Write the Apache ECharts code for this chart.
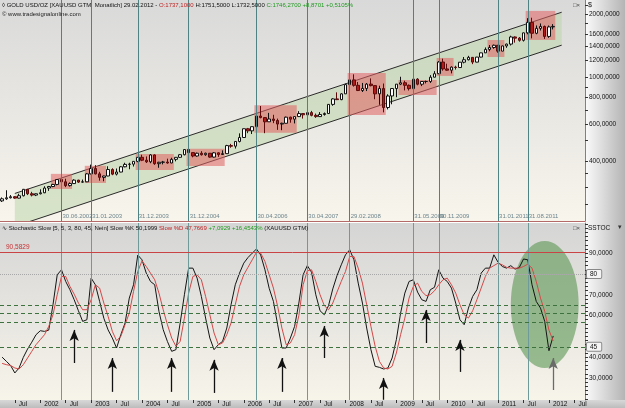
<!DOCTYPE html>
<html>
<head>
<meta charset="utf-8">
<script src="https://cdn.jsdelivr.net/npm/echarts@6/dist/echarts.min.js"></script>
<style>
  html, body { margin: 0; padding: 0; background: #fff; }
  #chart { width: 625px; height: 408px; }
</style>
</head>
<body>
<div id="chart"></div>
<script>
// monthly bars, Apr 2001 .. Feb 2012 (axis runs on to Sep 2012)
const firstYear = 2001, firstMonth = 4, axisMonths = 138;

const opens = [
  258, 264, 267, 270, 266, 273, 293, 279, 275,
  279, 282, 297, 302, 309, 326, 318, 305, 312, 324, 317, 318,
  347, 368, 347, 334, 339, 364, 346, 354, 375, 385, 386, 398,
  416, 403, 396, 427, 388, 394, 395, 391, 407, 416, 428, 453,
  438, 422, 435, 428, 435, 417, 437, 429, 433, 473, 470, 495,
  517, 569, 556, 582, 654, 643, 614, 633, 623, 599, 604, 646,
  632, 650, 672, 663, 679, 659, 650, 665, 672, 743, 789, 783,
  834, 923, 972, 916, 865, 885, 928, 913, 834, 884, 718, 815,
  884, 928, 942, 916, 883, 980, 927, 955, 955, 1001, 1040, 1182,
  1096, 1081, 1118, 1113, 1180, 1212, 1244, 1181, 1248, 1307, 1357, 1386,
  1421, 1332, 1410, 1439, 1556, 1536, 1500, 1628, 1826, 1620, 1710, 1746,
  1565, 1737.1
];
const closes = [
  264, 267, 270, 266, 273, 293, 279, 275, 279,
  282, 297, 302, 309, 326, 318, 305, 312, 324, 317, 318, 347,
  368, 347, 334, 339, 364, 346, 354, 375, 385, 386, 398, 416,
  403, 396, 427, 388, 394, 395, 391, 407, 416, 428, 453, 438,
  422, 435, 428, 435, 417, 437, 429, 433, 473, 470, 495, 517,
  569, 556, 582, 654, 643, 614, 633, 623, 599, 604, 646, 632,
  650, 672, 663, 679, 659, 650, 665, 672, 743, 789, 783, 834,
  923, 972, 916, 865, 885, 928, 913, 834, 884, 718, 815, 884,
  928, 942, 916, 883, 980, 927, 955, 955, 1001, 1040, 1182, 1096,
  1081, 1118, 1113, 1180, 1212, 1244, 1181, 1248, 1307, 1357, 1386, 1421,
  1332, 1410, 1439, 1556, 1536, 1500, 1628, 1826, 1620, 1710, 1746, 1565,
  1737, 1746.27
];
const lows = [
  255, 261, 265, 264, 265, 271, 275, 271, 272,
  277, 281, 288, 300, 306, 314, 300, 302, 311, 314, 315, 317,
  345, 345, 322, 320, 338, 342, 341, 353, 373, 365, 376, 394,
  399, 391, 390, 383, 371, 385, 388, 390, 398, 413, 425, 434,
  416, 419, 424, 423, 414, 415, 418, 427, 432, 462, 458, 490,
  515, 542, 537, 580, 638, 542, 613, 605, 562, 560, 603, 608,
  603, 647, 636, 662, 652, 641, 648, 657, 670, 732, 779, 778,
  833, 890, 903, 860, 851, 860, 905, 786, 740, 681, 703, 744,
  804, 918, 866, 865, 870, 916, 908, 935, 940, 1000, 1035, 1075,
  1075, 1044, 1088, 1113, 1165, 1203, 1155, 1178, 1243, 1308, 1330, 1367,
  1309, 1330, 1381, 1417, 1462, 1478, 1480, 1602, 1532, 1603, 1670, 1523,
  1541, 1690
];
const highs = [
  268, 290, 275, 272, 279, 294, 294, 285, 280,
  293, 303, 304, 311, 328, 330, 329, 316, 327, 325, 326, 350,
  384, 382, 355, 340, 377, 369, 368, 378, 392, 392, 399, 417,
  428, 420, 431, 430, 396, 400, 410, 414, 417, 431, 454, 456,
  438, 438, 445, 438, 436, 441, 439, 449, 477, 482, 497, 541,
  570, 574, 584, 656, 730, 645, 677, 663, 636, 608, 650, 649,
  651, 690, 673, 695, 692, 672, 683, 680, 744, 795, 848, 840,
  933, 975, 1033, 950, 940, 939, 988, 914, 912, 934, 830, 889,
  929, 1006, 963, 924, 981, 990, 960, 964, 1024, 1070, 1195, 1227,
  1161, 1127, 1135, 1181, 1249, 1265, 1245, 1250, 1310, 1387, 1424, 1432,
  1424, 1414, 1447, 1577, 1566, 1553, 1632, 1912, 1921, 1765, 1804, 1763,
  1764, 1791
];

// Stochastic Slow %K / %D, same months
const slowK = [
  40, 38, 36, 32.4, 34.8, 39.9, 43.9, 47.2, 50.8,
  52.7, 52.4, 53, 65.2, 79.6, 82, 76.4, 72.4, 67.6, 62.3, 57.2, 58,
  78, 74.8, 66.8, 58.7, 53.1, 49.2, 44.4, 50.8, 56.4, 68.4, 74.8, 89.1,
  86.8, 80.4, 76.4, 74.8, 62, 53.2, 47.5, 42.8, 43.6, 56.4, 70, 82.8,
  82.8, 78, 69.2, 58.8, 49.2, 43.6, 46, 47.6, 54, 65.2, 74.8, 80.4,
  85.2, 87.9, 90, 92, 89.1, 82, 73.1, 66.8, 55.6, 44.4, 44.4, 49.2,
  54.8, 66, 79.6, 84, 80.8, 70, 62.3, 60.4, 64.8, 72.8, 79.2, 84.4,
  89.2, 91.6, 86.8, 75.6, 66, 54, 43.6, 35.6, 35.1, 34.3, 34.8, 39.6,
  48.4, 61.2, 70.8, 76.4, 77.2, 71.3, 67.6, 66.8, 72.4, 73.6, 82, 78,
  76.4, 73.2, 66, 58, 55.6, 63.6, 69.2, 72.4, 80.4, 82.8, 82.8, 89.2,
  85.6, 83.6, 82.8, 84, 82.3, 83.1, 87.2, 86.8, 74.8, 66.8, 63.6, 57.2,
  43.1, 50.1999
];
const slowD = [
  37, 36.4, 36, 34.8, 34.3, 36.4, 39.6, 42.8, 46,
  48.4, 50.8, 54.8, 60.4, 70, 78.8, 78.8, 74, 70.3, 66, 62.8, 62.8,
  67.6, 74.8, 73.2, 66, 59.6, 52.4, 47.9, 50, 55.6, 61.2, 71.6, 81.2,
  86.3, 83.6, 80.4, 77.2, 70.8, 62.8, 55.6, 49.2, 45.2, 47.6, 58.8, 70.8,
  78.8, 79.6, 77.2, 69.2, 60.4, 51.6, 46, 46.8, 50.8, 56.4, 65.2, 74,
  79.6, 83.2, 86.8, 90.4, 90, 86, 79.6, 73.2, 64.4, 54, 46, 46.8,
  50.8, 60, 74.8, 81.5, 82, 76.4, 70, 64.8, 62.8, 66, 71.3, 76.4,
  81.2, 88.4, 88.4, 82.8, 75.6, 65.2, 54.8, 45.2, 38, 34.8, 34.3, 35.6,
  42, 50.8, 58.8, 68.4, 74, 75.6, 71.6, 69.6, 70, 71.9, 74.8, 77.2,
  78, 74.8, 70.8, 65.2, 60.4, 58.8, 62.3, 67.6, 73.2, 78.8, 82.8, 84,
  85.2, 84.4, 83.2, 82.8, 82.8, 82.8, 83.6, 84.7, 82.8, 76.4, 68.4, 62,
  53, 47.7669
];

// marked bars (vertical lines)
const markDates = ['2002-06-30', '2003-01-31', '2003-12-31', '2004-12-31', '2006-04-30',
  '2007-04-30', '2008-02-29', '2009-05-31', '2009-11-30', '2011-01-31', '2011-08-31'];

// red boxes: from month, to month, low, high
const boxes = [
  ['2002-04', '2002-08', 294, 347],
  ['2002-12', '2003-04', 314, 379],
  ['2003-12', '2004-08', 362, 431],
  ['2004-12', '2005-08', 378, 457],
  ['2006-04', '2007-01', 544, 737],
  ['2008-02', '2008-10', 662, 1049],
  ['2009-02', '2009-10', 824, 971],
  ['2009-11', '2010-02', 1015, 1236],
  ['2010-11', '2011-02', 1249, 1505],
  ['2011-08', '2012-02', 1506, 2070]
];

// trend channel: from month, to month, upper start/end, lower start/end
const channel = ['2001-07', '2012-04', 280, 2040, 195, 1422];

// stochastic levels
const redLevel = 90.5829, upperLevel = 80, lowerLevel = 45;
const zoneLevels = [65, 61, 57];

// arrows: month, from value, to value
const arrows = [
  ['2002-09', 37.2, 53.1], ['2003-06', 23.3, 39.6], ['2004-08', 23.3, 39.6],
  ['2005-06', 22.8, 38.7], ['2006-10', 23.3, 39.6], ['2007-08', 39.6, 55],
  ['2008-10', 19.5, 30], ['2009-08', 46.8, 62.7], ['2010-04', 32.9, 48.3],
  ['2012-02', 24.2, 39.6]
];

// green ellipse: from month, to month, low, high
const ellipse = ['2011-04', '2012-08', 34.8, 95.9];

const priceTicks = [250, 300, 350, 400, 500, 600, 700, 800, 900, 1000, 1200, 1400, 1600, 1800, 2000, 2200];
const priceLabels = [400, 600, 800, 1000, 1200, 1400, 1600, 2000];
const stochLabels = [30, 40, 60, 70, 90];

const months = [];
for (let i = 0, y = firstYear, m = firstMonth; i < axisMonths; i++) {
  months.push(y + '-' + String(m).padStart(2, '0'));
  m++;
  if (m > 12) { m = 1; y++; }
}
const lg = Math.log10;
const idx = m => months.indexOf(m);

const chart = echarts.init(document.getElementById('chart'));

const candleData = opens.map((o, i) => [lg(o), lg(closes[i]), lg(lows[i]), lg(highs[i])]);
const vLinesTop = markDates.map(d => ({ xAxis: d.slice(0, 7) }));
const fmtDate = d => d.slice(8, 10) + '.' + d.slice(5, 7) + '.' + d.slice(0, 4);

const stochTicks = [];
for (let v = 20; v <= 104; v += 2) stochTicks.push(v);

const marker = (txt, border) => ({
  show: true, position: 'end', distance: 2, formatter: txt,
  fontSize: 6.5, color: '#111', backgroundColor: '#f4f4f4',
  borderColor: border, borderWidth: 1, borderRadius: 1, padding: [1, 4, 0, 3]
});

const bgGrad = (c0, c1) => new echarts.graphic.LinearGradient(0, 0, 0, 1, [
  { offset: 0, color: c0 }, { offset: 1, color: c1 }
]);

const richTitle = {
  k: { color: '#111', fontSize: 6, fontFamily: 'Liberation Sans' },
  r: { color: '#c02020', fontSize: 6, fontFamily: 'Liberation Sans' },
  g: { color: '#1f9a1f', fontSize: 6, fontFamily: 'Liberation Sans' }
};

let option = {
  animation: false,
  textStyle: { fontFamily: 'Liberation Sans' },
  title: [
    {
      left: 2, top: 2, padding: 0,
      text: '{k|\u25CA GOLD USD/OZ [XAUUSD GTM  Monatlich] 29.02.2012 - }{r|O:1737,1000}{k| H:1751,5000 L:1732,5000 }{g|C:1746,2700 +8,8701 +0,5105%}',
      textStyle: { fontSize: 6, fontWeight: 'normal', rich: richTitle }
    },
    {
      left: 2, top: 11, padding: 0, text: '\u00A9 www.tradesignalonline.com',
      textStyle: { fontSize: 6, fontWeight: 'normal', color: '#222' }
    },
    {
      left: 2, top: 225, padding: 0,
      text: '{k|\u223F Stochastic Slow [5, 5, 3, 80, 45, Nein] Slow %K 50,1999 }{r|Slow %D 47,7669}{g| +7,0929 +16,4543%}{k| (XAUUSD GTM)}',
      textStyle: { fontSize: 6, fontWeight: 'normal', rich: richTitle }
    },
    { left: 588, top: 2, padding: 0, text: '$', textStyle: { fontSize: 7, fontWeight: 'normal', color: '#111' } },
    { left: 588, top: 225, padding: 0, text: 'SSTOC', textStyle: { fontSize: 6.5, fontWeight: 'normal', color: '#111' } },
    { left: 618, top: 224, padding: 0, text: '\u25BE', textStyle: { fontSize: 7, fontWeight: 'normal', color: '#333' } },
    { left: 573, top: 2, padding: 0, text: '\u25A1\u00D7', textStyle: { fontSize: 6, fontWeight: 'normal', color: '#444' } },
    { left: 573, top: 225, padding: 0, text: '\u25A1\u00D7', textStyle: { fontSize: 6, fontWeight: 'normal', color: '#444' } }
  ],
  graphic: [
    {
      type: 'rect', left: 585, top: 0, z: -5, silent: true,
      shape: { width: 40, height: 400 },
      style: { fill: new echarts.graphic.LinearGradient(0, 0, 1, 0, [
        { offset: 0, color: '#fbfbfb' }, { offset: 1, color: '#b4b4b4' }
      ]) }
    },
    {
      type: 'rect', left: 0, top: 400, z: -5, silent: true,
      shape: { width: 625, height: 8 },
      style: { fill: bgGrad('#d8d8d8', '#bcbcbc') }
    }
  ],
  grid: [
    { left: 0, right: 40, top: 0, height: 221, show: true, borderWidth: 0,
      backgroundColor: bgGrad('#d9d9d9', '#f8f5ec') },
    { left: 0, right: 40, top: 223, bottom: 8, show: true, borderWidth: 0,
      backgroundColor: bgGrad('#d5d5d5', '#f7f4ea') }
  ],
  xAxis: [
    {
      type: 'category', gridIndex: 0, data: months,
      axisLine: { show: true, lineStyle: { color: '#b56a6a' } },
      axisTick: { show: false }, axisLabel: { show: false }
    },
    {
      type: 'category', gridIndex: 1, data: months,
      axisLine: { show: false },
      axisTick: {
        show: true, length: 3, alignWithLabel: true,
        interval: (i, v) => v.endsWith('-01') || v.endsWith('-07'),
        lineStyle: { color: '#333' }
      },
      axisLabel: {
        show: true, fontSize: 6.5, color: '#111', margin: 1, align: 'left',
        padding: [0, 0, 0, 4],
        interval: (i, v) => v.endsWith('-01') || v.endsWith('-07'),
        formatter: v => v.endsWith('-01') ? v.slice(0, 4) : 'Jul'
      }
    }
  ],
  yAxis: [
    {
      type: 'value', gridIndex: 0, position: 'right',
      min: lg(207), max: lg(2333),
      splitLine: { show: false },
      axisLine: { show: true, lineStyle: { color: '#b56a6a' } },
      axisTick: { show: true, length: 3, customValues: priceTicks.map(lg), lineStyle: { color: '#333' } },
      axisLabel: {
        fontSize: 6.5, color: '#111', margin: 4,
        customValues: priceLabels.map(lg),
        formatter: v => Math.round(Math.pow(10, v)) + ',0000'
      }
    },
    {
      type: 'value', gridIndex: 1, position: 'right',
      min: 19.4, max: 104.5,
      splitLine: { show: false },
      axisLine: { show: true, lineStyle: { color: '#b56a6a' } },
      axisTick: { show: true, length: 3, customValues: stochTicks, lineStyle: { color: '#333' } },
      axisLabel: {
        fontSize: 6.5, color: '#111', margin: 4,
        customValues: stochLabels,
        formatter: v => v + ',0000'
      }
    }
  ],
  series: [
    {
      name: 'channel', type: 'custom', xAxisIndex: 0, yAxisIndex: 0, z: 1, silent: true, clip: true,
      data: [[idx(channel[0]), idx(channel[1]), lg(channel[2]), lg(channel[3]), lg(channel[4]), lg(channel[5])]],
      encode: { x: [0, 1], y: [2, 3, 4, 5] },
      renderItem: (params, api) => {
        const a = api.coord([api.value(0), api.value(2)]);
        const b = api.coord([api.value(1), api.value(3)]);
        const c = api.coord([api.value(1), api.value(5)]);
        const d = api.coord([api.value(0), api.value(4)]);
        return {
          type: 'group', children: [
            { type: 'polygon', shape: { points: [a, b, c, d] }, style: { fill: 'rgba(190,214,172,0.55)' } },
            { type: 'line', shape: { x1: a[0], y1: a[1], x2: b[0], y2: b[1] }, style: { stroke: '#2a2a2a', lineWidth: 1 } },
            { type: 'line', shape: { x1: d[0], y1: d[1], x2: c[0], y2: c[1] }, style: { stroke: '#2a2a2a', lineWidth: 1 } }
          ]
        };
      }
    },
    {
      name: 'boxes', type: 'custom', xAxisIndex: 0, yAxisIndex: 0, z: 2, silent: true, clip: true,
      data: boxes.map(b => [idx(b[0]), idx(b[1]), lg(b[2]), lg(b[3])]),
      encode: { x: [0, 1], y: [2, 3] },
      renderItem: (params, api) => {
        const p1 = api.coord([api.value(0), api.value(3)]);
        const p2 = api.coord([api.value(1), api.value(2)]);
        const bw = api.size([1, 0])[0];
        return {
          type: 'rect',
          shape: { x: p1[0] - bw / 2, y: p1[1], width: p2[0] - p1[0] + bw, height: p2[1] - p1[1] },
          style: { fill: 'rgba(226,96,96,0.55)' }
        };
      }
    },
    {
      name: 'GOLD', type: 'candlestick', xAxisIndex: 0, yAxisIndex: 0, z: 3,
      barWidth: 3,
      data: candleData,
      itemStyle: {
        color: '#ffffff', color0: '#b31b1b',
        borderColor: '#111111', borderColor0: '#5c0a0a', borderWidth: 1
      },
      markLine: {
        silent: true, symbol: 'none', animation: false,
        data: vLinesTop.map(v => Object.assign({
          lineStyle: { color: '#4f8383', width: 1, type: 'solid' }, label: { show: false }
        }, v)).concat([{
          yAxis: lg(1746.27), lineStyle: { opacity: 0 },
          label: marker('1746,2700', '#555')
        }])
      }
    },
    {
      name: 'dateLabels', type: 'scatter', xAxisIndex: 0, yAxisIndex: 0, z: 4, silent: true,
      symbolSize: 0,
      data: markDates.map(d => ({ name: fmtDate(d), value: [d.slice(0, 7), lg(217)] })),
      label: { show: true, position: 'right', distance: 1, formatter: '{b}', fontSize: 6, color: '#4a6874' }
    },
    {
      name: 'ellipse', type: 'custom', xAxisIndex: 1, yAxisIndex: 1, z: 1, silent: true, clip: true,
      data: [[idx(ellipse[0]), idx(ellipse[1]), ellipse[2], ellipse[3]]],
      encode: { x: [0, 1], y: [2, 3] },
      renderItem: (params, api) => {
        const p1 = api.coord([api.value(0), api.value(3)]);
        const p2 = api.coord([api.value(1), api.value(2)]);
        return {
          type: 'ellipse',
          shape: { cx: (p1[0] + p2[0]) / 2, cy: (p1[1] + p2[1]) / 2, rx: (p2[0] - p1[0]) / 2, ry: (p2[1] - p1[1]) / 2 },
          style: { fill: 'rgba(92,150,84,0.6)' }
        };
      }
    },
    {
      name: 'Slow %K', type: 'line', xAxisIndex: 1, yAxisIndex: 1, z: 3,
      data: slowK, symbol: 'none',
      lineStyle: { color: '#141414', width: 1 },
      markLine: {
        silent: true, symbol: 'none', animation: false,
        data: markDates.map(d => ({
          xAxis: d.slice(0, 7), lineStyle: { color: '#6f9a9a', width: 1, type: 'solid' }, label: { show: false }
        })).concat([
          { yAxis: redLevel, lineStyle: { color: '#c94444', width: 1, type: 'solid' },
            label: { show: true, position: 'insideStartTop', formatter: '90,5829', fontSize: 6.5, color: '#c83232', distance: [6, 1] } },
          { yAxis: upperLevel, lineStyle: { color: '#a8a8a8', width: 1, type: 'dotted' }, label: marker('80', '#888') },
          { yAxis: lowerLevel, lineStyle: { color: '#3d713d', width: 1, type: [4, 3] }, label: marker('45', '#888') }
        ]).concat(zoneLevels.map(v => ({
          yAxis: v, lineStyle: { color: '#3d713d', width: 1, type: [4, 3] }, label: { show: false }
        }))).concat([
          { yAxis: 50.1999, lineStyle: { opacity: 0 }, label: marker('50,1999', '#333') }
        ]).concat(arrows.map((a, i) => [
          { coord: [a[0], a[1]], symbol: 'none',
            lineStyle: { color: i === arrows.length - 1 ? '#6a6a6a' : '#111', width: 1.3, type: 'solid' }, label: { show: false } },
          { coord: [a[0], a[2]], symbol: 'arrow', symbolSize: [7, 11] }
        ]))
      }
    },
    {
      name: 'Slow %D', type: 'line', xAxisIndex: 1, yAxisIndex: 1, z: 3,
      data: slowD, symbol: 'none',
      lineStyle: { color: '#d54848', width: 1 },
      markLine: {
        silent: true, symbol: 'none', animation: false,
        data: [{ yAxis: 47.7669, lineStyle: { opacity: 0 }, label: marker('47,7669', '#c84040') }]
      }
    }
  ]
};

chart.setOption(option);
window.addEventListener('resize', () => chart.resize());
</script>
</body>
</html>
